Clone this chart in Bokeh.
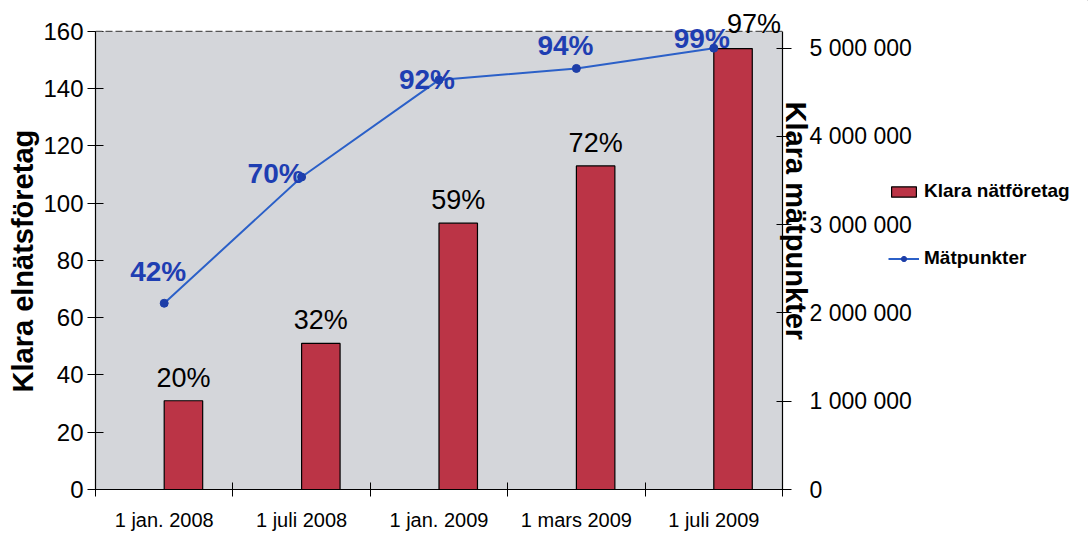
import math
from bokeh.plotting import figure
from bokeh.layouts import row
from bokeh.models import (Range1d, LinearAxis, FixedTicker, CustomJSTickFormatter,
                          Label, Legend, LegendItem, Span, BoxAnnotation)
from bokeh.embed import file_html
from bokeh.resources import INLINE

# ---- data ----
categories = ["1 jan. 2008", "1 juli 2008", "1 jan. 2009", "1 mars 2009", "1 juli 2009"]
companies = [31, 51, 93, 113, 154]                  # Klara nätföretag (left axis)
company_pct = ["20%", "32%", "59%", "72%", "97%"]
points = [2110000, 3540000, 4640000, 4770000, 5000000]  # Mätpunkter (right axis)
point_pct = ["42%", "70%", "92%", "94%", "99%"]
left_ticks = [0, 20, 40, 60, 80, 100, 120, 140, 160]
right_ticks = [0, 1000000, 2000000, 3000000, 4000000, 5000000]
series_names = ["Klara nätföretag", "Mätpunkter"]

FONT = "Liberation Sans"
BAR_COLOR = "#bb3446"
LINE_COLOR = "#2b60c8"
MARK_COLOR = "#1d3ea8"
LBL_BLUE = "#1e3eb2"
NBSP = "\u00a0"

n = len(categories)
xs = list(range(n))
LEFT_TOP = 160           # top of the grey plot area (left units)
RIGHT_TOP = 5190000      # same height in right units
HEAD = 491 / 460         # extra head-room above plot area for the labels

p = figure(width=915, height=533, output_backend="svg", toolbar_location=None,
           x_range=Range1d(-0.5, n - 0.5), y_range=Range1d(0, LEFT_TOP * HEAD),
           min_border_left=95, min_border_right=133, min_border_top=0, min_border_bottom=42)
p.extra_y_ranges = {"right": Range1d(0, RIGHT_TOP * HEAD)}
p.background_fill_color = "white"
p.border_fill_color = "white"
p.outline_line_color = None
p.grid.visible = False

# grey plot area
p.add_layout(BoxAnnotation(bottom=0, top=LEFT_TOP, fill_color="#d4d6da", fill_alpha=1,
                           line_color=None, level="underlay"))

# bars (in the right half of each category, as in the original)
BAR_W = 0.28
bar_x = [x + BAR_W / 2 for x in xs]
bar_style = dict(fill_color=BAR_COLOR, line_color="black", line_width=1.2)
p.vbar(x=bar_x, top=companies, width=BAR_W, **bar_style)

# line
line_style = dict(line_color=LINE_COLOR, line_width=2)
dot_style = dict(size=8, fill_color=MARK_COLOR, line_color=MARK_COLOR)
p.line(xs, points, y_range_name="right", **line_style)
p.scatter(xs, points, y_range_name="right", **dot_style)

# dashed top border
p.add_layout(Span(location=LEFT_TOP, dimension="width", line_color="#555555",
                  line_dash="7 3", line_width=1.2))

# x axis
xa = p.xaxis[0]
xa.ticker = FixedTicker(ticks=xs, minor_ticks=[x - 0.5 for x in xs] + [n - 0.5])
xa.major_label_overrides = {i: c for i, c in enumerate(categories)}
xa.major_tick_line_color = None
xa.major_tick_out = 0
xa.major_tick_in = 0
xa.minor_tick_line_color = "black"
xa.minor_tick_in = 7
xa.minor_tick_out = 7
xa.major_label_standoff = 12
xa.major_label_text_font = FONT
xa.major_label_text_font_size = "20px"
xa.major_label_text_color = "black"
xa.axis_line_color = "black"
xa.axis_line_width = 1.2

# left axis
ya = p.yaxis[0]
ya.ticker = FixedTicker(ticks=left_ticks)
ya.bounds = (0, LEFT_TOP)
ya.minor_tick_line_color = None
ya.major_tick_in = 8
ya.major_tick_out = 8
ya.major_label_standoff = 4
ya.major_label_text_font = FONT
ya.major_label_text_font_size = "24px"
ya.major_label_text_color = "black"
ya.axis_label = "Klara elnätsföretag" + NBSP * 4
ya.axis_label_text_font = FONT
ya.axis_label_text_font_size = "29px"
ya.axis_label_text_font_style = "bold"
ya.axis_label_text_color = "black"
ya.axis_label_standoff = 1
ya.axis_line_color = "black"
ya.axis_line_width = 1.2

# right axis, part 1: axis line, ticks and the title (which overlaps the tick labels)
ra = LinearAxis(y_range_name="right", ticker=FixedTicker(ticks=right_ticks))
ra.bounds = (0, RIGHT_TOP)
ra.formatter = CustomJSTickFormatter(code="return '';")
ra.minor_tick_line_color = None
ra.major_tick_in = 6
ra.major_tick_out = 9
ra.major_label_standoff = 0
ra.axis_label = "Klara mätpunkter" + NBSP * 6
ra.axis_label_text_font = FONT
ra.axis_label_text_font_size = "29px"
ra.axis_label_text_font_style = "bold"
ra.axis_label_text_color = "black"
ra.axis_label_standoff = -12
ra.axis_line_color = "black"
ra.axis_line_width = 1.2
p.add_layout(ra, "right")

# right axis, part 2: the tick labels
ra2 = LinearAxis(y_range_name="right", ticker=FixedTicker(ticks=right_ticks))
ra2.formatter = CustomJSTickFormatter(code="return String(Math.round(tick)).replace(/\\B(?=(\\d{3})+(?!\\d))/g, ' ');")
ra2.axis_line_color = None
ra2.major_tick_line_color = None
ra2.minor_tick_line_color = None
ra2.major_tick_in = 0
ra2.major_tick_out = 0
ra2.major_label_standoff = -5
ra2.major_label_text_font = FONT
ra2.major_label_text_font_size = "23px"
ra2.major_label_text_color = "black"
p.add_layout(ra2, "right")

# bar value labels
bar_offsets = [(0, 8), (0, 8), (0, 8), (0, 8), (21, 10)]
for x, v, t, (dx, dy) in zip(bar_x, companies, company_pct, bar_offsets):
    p.add_layout(Label(x=x, y=v, x_offset=dx, y_offset=dy, text=t, text_align="center",
                       text_baseline="bottom", text_font=FONT, text_font_size="27px",
                       text_color="black"))

# line value labels
pt_offsets = [(-6, 32), (-26, 4), (-12, 0), (-11, 23), (-12, 10)]
for x, v, t, (dx, dy) in zip(xs, points, point_pct, pt_offsets):
    p.add_layout(Label(x=x, y=v, y_range_name="right", x_offset=dx, y_offset=dy, text=t,
                       text_align="center", text_baseline="alphabetic", text_font=FONT,
                       text_font_size="28px", text_font_style="bold", text_color=LBL_BLUE))

# ---- legend panel (small transparent figure, pulled left over the margin) ----
q = figure(width=200, height=533, output_backend="svg", toolbar_location=None,
           x_range=Range1d(-1001, -1000), y_range=Range1d(-1001, -1000),
           x_axis_location=None, y_axis_location=None,
           min_border_left=0, min_border_right=0, min_border_top=0, min_border_bottom=0)
q.margin = (0, 0, 0, -27)
q.outline_line_color = None
q.grid.visible = False
q.background_fill_alpha = 0
q.border_fill_alpha = 0
# same series drawn far outside the visible range: they only feed the legend glyphs
lb = q.vbar(x=bar_x, top=companies, width=BAR_W, **bar_style)
ll = q.line(xs, companies, **line_style)
ld = q.scatter(xs, companies, **dot_style)
legend = Legend(items=[LegendItem(label=series_names[0], renderers=[lb]),
                       LegendItem(label=series_names[1], renderers=[ll, ld])],
                location=(0, 220), glyph_width=31, glyph_height=13, label_height=22,
                spacing=45, padding=0, margin=0, label_standoff=5,
                border_line_color=None, background_fill_alpha=0,
                label_text_font=FONT, label_text_font_size="19px",
                label_text_font_style="bold", label_text_color="black")
q.add_layout(legend, "center")

layout = row(p, q, spacing=0)
open("out.html", "w").write(file_html(layout, INLINE))
